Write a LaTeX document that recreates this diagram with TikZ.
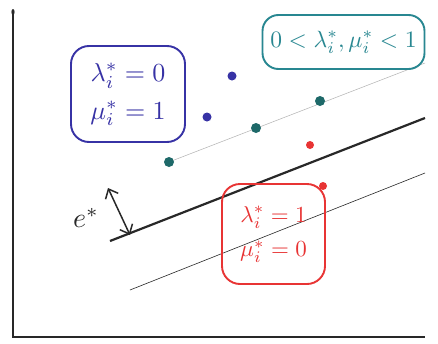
\documentclass[tikz,border=0pt]{standalone}
\usepackage{graphicx}
\usetikzlibrary{arrows.meta}
\definecolor{penblue}{RGB}{55,50,165}
\definecolor{penteal}{RGB}{40,135,145}
\definecolor{dotteal}{RGB}{30,105,105}
\definecolor{penred}{RGB}{232,52,52}
\definecolor{penblack}{RGB}{40,40,40}
\tikzset{
  condbox/.style={draw, line width=1.9pt, rounded corners=18pt, inner sep=0pt, align=center},
  pdot/.style={circle, inner sep=0pt, minimum size=#1},
  axisline/.style={penblack, line width=1.8pt},
  margin/.style={penblack, line width=2.2pt},
  support/.style={penblack, line width=0.6pt},
  faint/.style={black!30, line width=0.5pt},
}
\begin{document}
\begin{tikzpicture}[x=1pt,y=-1pt]
\useasboundingbox (0,0) rectangle (438,343);
\fill[white] (0,0) rectangle (438,343);
% axes
\coordinate (ytop) at (13,12);
\coordinate (orig) at (13,337);
\coordinate (xend) at (425,337);
\draw[axisline] (ytop) -- (orig) -- (xend);
\fill[penblack] (ytop) ellipse (1.6pt and 3pt);
% lines
\coordinate (m1) at (110,241);
\coordinate (m2) at (425,118);
\coordinate (l1) at (130,290);
\coordinate (l2) at (425,173);
\coordinate (u1) at (169,162);
\coordinate (u2) at (425,63);
\draw[margin] (m1) -- (m2);
\draw[support] (l1) -- (l2);
\draw[faint] (u1) -- (u2);
% boxes
\node[condbox, penblue, minimum width=114pt, minimum height=96pt] (bbox) at (128,94)
  {\scalebox{2.6}{\begin{tabular}{@{}c@{}}$\lambda_i^*=0$\\[2.5pt] $\mu_i^*=1$\end{tabular}}};
\node[condbox, penteal, minimum width=162pt, minimum height=54pt, rounded corners=16pt] (tbox) at (343.5,42)
  {\scalebox{2.35}{$0<\lambda_i^*,\mu_i^*<1$}};
\node[condbox, penred, minimum width=103pt, minimum height=100pt] (rbox) at (273.5,234)
  {\scalebox{2.3}{\begin{tabular}{@{}c@{}}$\lambda_i^*=1$\\[3pt] $\mu_i^*=0$\end{tabular}}};
% dots
\node[pdot=10pt, fill=dotteal] (t1) at (169,162) {};
\node[pdot=10pt, fill=dotteal] (t2) at (256,128) {};
\node[pdot=10pt, fill=dotteal] (t3) at (320,101) {};
\node[pdot=9pt, fill=penblue] (b1) at (232,76) {};
\node[pdot=9pt, fill=penblue] (b2) at (207,117) {};
\node[pdot=8pt, fill=penred] (r1) at (310,145) {};
\node[pdot=8pt, fill=penred] (r2) at (323,186) {};
% e* arrow
\coordinate (ea) at (108,188);
\coordinate (eb) at (130,235);
\draw[penblack, line width=1.5pt, {Straight Barb[length=8pt,width=14pt]}-{Straight Barb[length=8pt,width=14pt]}] (ea) -- (eb);
\node[penblack] (elab) at (86,218) {\scalebox{2.8}{$e^*$}};
\end{tikzpicture}
\end{document}
